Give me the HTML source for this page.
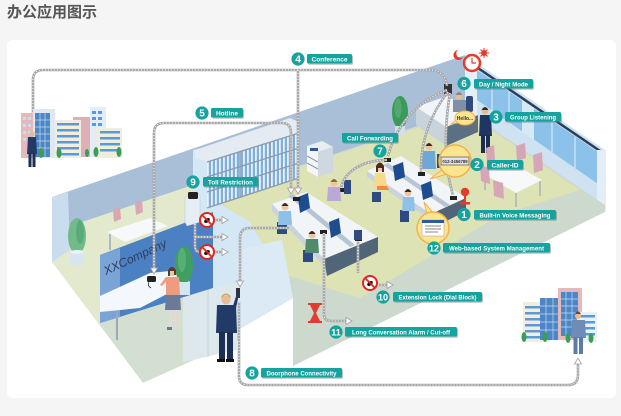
<!DOCTYPE html>
<html><head><meta charset="utf-8">
<style>
html,body{margin:0;padding:0;background:#f5f5f5;}
svg{display:block;}
.lt{font-family:"Liberation Sans",Arial,sans-serif;font-weight:bold;fill:#fff;}
</style></head>
<body>
<svg width="621" height="416" viewBox="0 0 621 416" xmlns="http://www.w3.org/2000/svg">
<defs>
  <pattern id="bind" width="4" height="20" patternUnits="userSpaceOnUse">
    <rect width="4" height="20" fill="#e9f1f9"/>
    <rect x="0.8" width="2.2" height="20" fill="#7fb0dd"/>
  </pattern>
  <path id="c1" d="M33,119 V80 Q33,70 43,70 H430 Q445,70 447,86"/>
  <path id="c2" d="M298,70 V188"/>
  <path id="c3" d="M154,268 V133 Q154,123 164,123 H282 Q291,123 291,133 V188"/>
  <path id="c4" d="M195,206 V246 Q195,252 200,252 M195,237 H222 M215,220 H222 M215,252 H222"/>
  <path id="c5" d="M290,228 H250 Q240,228 240,238 V281"/>
  <path id="c6" d="M239,302 V376 Q239,385 248,385 H568 Q578,385 578,375 V364"/>
  <path id="c7" d="M358,241 V273 M378,285 H387"/>
  <path id="c8" d="M324,233 V314 Q324,321 331,321 H346"/>
  <path id="c9" d="M447,90 C425,98 398,118 388,156"/>
  <path id="c10" d="M448,92 C432,112 420,140 421,172"/>
  <path id="c11" d="M450,93 C444,130 444,165 453,195"/>
  <path id="c12" d="M341,188 C344,172 362,160 387,160"/>
</defs>

<rect width="621" height="416" fill="#f5f5f5"/>
<text x="7" y="17" font-family="'Liberation Sans','Noto Sans CJK SC',sans-serif" font-size="15" font-weight="bold" fill="#555">办公应用图示</text>
<rect x="7" y="40" width="609" height="358" rx="5" fill="#fff"/>

<!-- back wall -->
<polygon points="52,197 465,55 465,110 52,250" fill="#a8bfd7"/>
<!-- window wall -->
<polygon points="465,55 605,150 605,212 465,112" fill="#cfe2f2"/>
<polygon points="477,70 598,152 598,184 477,100" fill="#8cc2ea"/>
<g stroke="#d3e8f7" stroke-width="1.2">
  <line x1="492" y1="80" x2="492" y2="111"/>
  <line x1="509" y1="92" x2="509" y2="122"/>
  <line x1="552" y1="121" x2="552" y2="152"/>
  <line x1="575" y1="137" x2="575" y2="168"/>
</g>
<polygon points="522,100 534,108 534,140 522,132" fill="#d6e9f6"/>
<line x1="472" y1="64" x2="603" y2="153" stroke="#2b3e5a" stroke-width="2.5"/>
<polygon points="465,55 477,63 477,116 465,112" fill="#e4eff8"/>
<polygon points="597,150 606,150 606,212 597,208" fill="#e3eef7"/>

<!-- office floor -->
<polygon points="200,200 465,110 605,205 605,212 293,366 293,298 250,260" fill="#cdd9cc"/>
<polygon points="200,200 465,112 580,190 500,215 360,298 270,270 250,222" fill="#dee3b6"/>

<!-- reception floor / left side -->
<polygon points="52,232 193,185 213,212 100,255 100,325 143,383 52,262" fill="#e2e9cc"/>
<polygon points="52,197 68,192 70,250 52,262" fill="#c9ddef"/>
<polygon points="100,318 213,288 238,283 238,340 143,383 100,325" fill="#d3dfd1"/>

<!-- glass partition -->
<polygon points="193,150 213,146 213,200 250,222 293,298 238,330 238,283 213,290 213,212 193,218" fill="#d4e7f5"/>
<!-- shelf partition -->
<polygon points="195,150 290,118 299,122 299,133 207,162 195,158" fill="#e4ebf2"/>
<polygon points="207,162 299,133 299,178 207,208" fill="url(#bind)"/>
<g stroke="#8d9cab" stroke-width="1.4">
  <line x1="207" y1="162" x2="299" y2="133"/>
  <line x1="207" y1="177" x2="299" y2="148"/>
  <line x1="207" y1="192" x2="299" y2="163"/>
  <line x1="207" y1="208" x2="299" y2="178"/>
  <line x1="240" y1="152" x2="240" y2="198"/>
  <line x1="270" y1="142" x2="270" y2="188"/>
</g>

<!-- lobby -->
<polygon points="183,292 237,283 237,350 183,362" fill="#dce8ec"/>
<line x1="208" y1="288" x2="208" y2="357" stroke="#c3d3da" stroke-width="1"/>
<polygon points="237,250 282,240 293,298 282,303 237,330" fill="#dbeaf5"/>

<!-- reception back: chairs, table -->
<polygon points="113,210 120,207 121,219 114,222" fill="#d9a6b2"/>
<polygon points="135,203 142,200 143,212 136,215" fill="#d9a6b2"/>
<polygon points="107,232 150,218 168,226 125,242" fill="#f6f8fa"/>
<line x1="110" y1="234" x2="110" y2="250" stroke="#9aa8b5" stroke-width="1.5"/>

<!-- reception desk -->
<polygon points="100,255 213,212 213,288 100,323" fill="#4b80c2"/>
<polygon points="100,255 120,248 120,317 100,323" fill="#7aa3d6"/>
<polygon points="100,296 150,273 180,270 190,282 140,308 100,312" fill="#f4f7fb"/>
<line x1="117" y1="312" x2="117" y2="340" stroke="#9aa8b5" stroke-width="2"/>
<text x="0" y="0" transform="translate(106,275) rotate(-25)" font-family="'Liberation Sans',Arial,sans-serif" font-style="italic" font-size="12" fill="#2e3d5c" textLength="68" lengthAdjust="spacingAndGlyphs">XXCompany</text>
<rect x="147" y="276" width="9" height="6" rx="1.5" fill="#222"/>
<path d="M149,282 q-2,4 2,6" stroke="#222" fill="none" stroke-width="0.8"/>

<!-- trees -->
<ellipse cx="77" cy="236" rx="9" ry="18" fill="#72ba8b"/>
<ellipse cx="80" cy="232" rx="4" ry="12" fill="#4aa46c" opacity="0.6"/>
<rect x="70" y="252" width="14" height="13" fill="#d6e6f0"/>
<ellipse cx="77" cy="252" rx="7" ry="2" fill="#e9f2f8"/>
<ellipse cx="184" cy="265" rx="9" ry="19" fill="#3f9f60"/>
<ellipse cx="182" cy="260" rx="4" ry="12" fill="#67b985" opacity="0.6"/>
<rect x="178" y="282" width="12" height="13" fill="#d6e6f0"/>
<ellipse cx="400" cy="112" rx="8" ry="16" fill="#3a9a5a"/>
<ellipse cx="398" cy="108" rx="3.5" ry="10" fill="#62b37f" opacity="0.6"/>
<rect x="395" y="126" width="10" height="9" fill="#cfe0ea"/>

<!-- receptionist -->
<circle cx="172" cy="272" r="4" fill="#f0c4a0"/>
<path d="M168,270 q4,-6 8,0 v5 h-2 v-4 h-4 v5 h-2z" fill="#5b3a2a"/>
<path d="M166,277 h13 l1,18 h-14z" fill="#ee9c80"/>
<path d="M166,277 l-6,8 l2,1 l5,-5z" fill="#ee9c80"/>
<path d="M166,295 h14 l1,15 h-16z" fill="#6b7a97"/>
<rect x="169" y="310" width="3" height="18" fill="#e6d8d2"/>
<rect x="174" y="310" width="3" height="18" fill="#e6d8d2"/>
<rect x="167" y="327" width="5" height="3" fill="#6b7a97"/>

<!-- doorphone device + man -->
<rect x="236" y="288" width="4" height="10" fill="#333"/>
<circle cx="226" cy="300" r="4.5" fill="#e9bb92"/>
<path d="M221.5,299 q4.5,-8 9,0 v-3 q-4.5,-5 -9,0z" fill="#cfa862"/>
<path d="M217,305 h19 l1,28 h-21z" fill="#223a68"/>
<path d="M233,306 l4,-13 l2,1 l-3,14z" fill="#223a68"/>
<rect x="219" y="332" width="6" height="28" fill="#1b2f56"/>
<rect x="227" y="332" width="6" height="28" fill="#1b2f56"/>
<rect x="217" y="359" width="8" height="3" fill="#111"/>
<rect x="226" y="359" width="8" height="3" fill="#111"/>

<!-- copier -->
<polygon points="307,146 322,141 333,147 318,152" fill="#e9eef3"/>
<polygon points="318,152 333,147 333,172 318,177" fill="#cfd8e1"/>
<polygon points="307,146 318,152 318,177 307,171" fill="#f3f6f9"/>
<line x1="307" y1="156" x2="318" y2="162" stroke="#8a9aa8" stroke-width="1"/>
<line x1="307" y1="163" x2="318" y2="169" stroke="#8a9aa8" stroke-width="1"/>
<rect x="310" y="148" width="8" height="3" fill="#2c5aa0"/>

<!-- boss desk -->
<polygon points="416,107 447,96 478,115 446,127" fill="#f2f5f8"/>
<polygon points="446,127 478,115 478,132 446,146" fill="#5b7083"/>
<polygon points="416,107 446,127 446,146 416,125" fill="#c9d3dc"/>
<rect x="466" y="96" width="7" height="16" rx="2" fill="#2e4a7e"/>
<circle cx="459" cy="96" r="3.5" fill="#e9bb92"/>
<path d="M455.5,95 q3.5,-6 7,0z" fill="#888"/>
<path d="M453,100 h13 v12 h-13z" fill="#7e8fa6"/>
<rect x="444" y="84" width="8" height="10" fill="#333"/>

<!-- standing man near window -->
<circle cx="485" cy="111" r="3.5" fill="#e9bb92"/>
<path d="M481.5,110 q3.5,-6 7,0z" fill="#3a2a20"/>
<path d="M480,115 h11 l1,21 h-13z" fill="#1f3663"/>
<rect x="481" y="135" width="4" height="18" fill="#1a2d52"/>
<rect x="486" y="135" width="4" height="18" fill="#1a2d52"/>

<!-- meeting table -->
<polygon points="486,148 494,145 495,160 487,163" fill="#d7a6b6"/>
<polygon points="516,146 525,143 526,158 517,161" fill="#d7a6b6"/>
<polygon points="533,155 542,152 543,170 534,173" fill="#d7a6b6"/>
<polygon points="482,173 508,161 542,180 516,193" fill="#f6f8fa"/>
<line x1="485" y1="175" x2="485" y2="190" stroke="#9aa8b5" stroke-width="1.2"/>
<line x1="516" y1="193" x2="516" y2="207" stroke="#9aa8b5" stroke-width="1.2"/>
<line x1="540" y1="181" x2="540" y2="196" stroke="#9aa8b5" stroke-width="1.2"/>
<polygon points="480,165 489,168 490,184 481,181" fill="#d7a6b6"/>
<polygon points="493,180 503,183 504,199 494,196" fill="#d7a6b6"/>

<!-- desk 2 (back) -->
<polygon points="367,171 401,156 466,198 431,214" fill="#f2f5f8"/>
<polygon points="383,165 388,163 450,205 445,207" fill="#b5c5d5"/>
<polygon points="431,214 466,198 466,211 433,228" fill="#506578"/>
<polygon points="367,171 431,214 431,220 367,177" fill="#c9d3dc"/>
<polygon points="393,166 403,162 405,177 395,181" fill="#1e4d8f"/>
<polygon points="421,185 431,181 433,196 423,200" fill="#1e4d8f"/>
<rect x="384" y="158" width="7" height="4" fill="#222"/>
<rect x="418" y="172" width="7" height="4" fill="#222"/>
<rect x="450" y="196" width="7" height="4" fill="#222"/>
<path d="M372,192 h9 v10 h-9z" fill="#2e4a7e"/>
<circle cx="380" cy="168" r="3.5" fill="#f0c4a0"/>
<path d="M376,166 q4,-7 8,0 v6 h-2 v-4 h-4 v4 h-2z" fill="#4a2c1c"/>
<path d="M375,173 h10 l2,14 h-13z" fill="#f7d98a"/>
<path d="M377,186 h10 l2,4 h-12z" fill="#f08a3c"/>
<path d="M400,210 h9 v12 h-9z" fill="#2e4a7e"/>
<circle cx="408" cy="193" r="3.5" fill="#f0c4a0"/>
<path d="M404.5,192 q3.5,-6 7,0z" fill="#3a2a20"/>
<path d="M403,197 h11 l1,14 h-13z" fill="#8fc1e8"/>
<circle cx="429" cy="147" r="3.5" fill="#f0c4a0"/>
<path d="M425.5,146 q3.5,-6 7,0z" fill="#3a2a20"/>
<path d="M423,151 h12 l1,18 h-14z" fill="#6fa8d8"/>
<path d="M437,154 h6 v14 h-6z" fill="#2e4a7e"/>

<!-- desk 1 (front) -->
<polygon points="272,204 306,192 378,237 324,259" fill="#f2f5f8"/>
<polygon points="288,196 293,194 355,245 350,247" fill="#b5c5d5"/>
<polygon points="324,259 378,237 378,252 327,276" fill="#506578"/>
<polygon points="272,204 324,259 324,266 272,211" fill="#c9d3dc"/>
<polygon points="298,197 308,193 310,208 300,213" fill="#1e4d8f"/>
<polygon points="329,222 339,218 341,233 331,238" fill="#1e4d8f"/>
<rect x="293" y="197" width="7" height="4" fill="#222"/>
<rect x="320" y="230" width="7" height="4" fill="#222"/>
<rect x="338" y="188" width="7" height="4" fill="#222"/>
<rect x="355" y="237" width="7" height="4" fill="#222"/>
<path d="M277,222 h10 v12 h-10z" fill="#2e4a7e"/>
<circle cx="285" cy="207" r="3.5" fill="#f0c4a0"/>
<path d="M281.5,206 q3.5,-6 7,0z" fill="#3a2a20"/>
<path d="M279,211 h12 l1,14 h-14z" fill="#8fc1e8"/>
<path d="M303,250 h10 v12 h-10z" fill="#2e4a7e"/>
<circle cx="312" cy="235" r="3.5" fill="#f0c4a0"/>
<path d="M308.5,234 q3.5,-6 7,0z" fill="#3a2a20"/>
<path d="M306,239 h12 l1,14 h-14z" fill="#4f8a6d"/>
<path d="M344,180 h7 v14 h-7z" fill="#2e4a7e"/>
<circle cx="334" cy="183" r="3.5" fill="#f0c4a0"/>
<path d="M330.5,182 q3.5,-6 7,0z" fill="#8a6a40"/>
<path d="M328,187 h12 l1,14 h-14z" fill="#bba7d8"/>
<path d="M354,230 h8 v10 h-8z" fill="#2e4a7e"/>

<!-- connectors -->
<g fill="none">
  <g stroke="#a9a9a9" stroke-width="2.6">
    <use href="#c1"/><use href="#c2"/><use href="#c3"/><use href="#c4"/><use href="#c5"/><use href="#c6"/>
    <use href="#c7"/><use href="#c8"/><use href="#c9"/><use href="#c10"/><use href="#c11"/><use href="#c12"/>
  </g>
  <g stroke="#fff" stroke-width="1" stroke-dasharray="1 2">
    <use href="#c1"/><use href="#c2"/><use href="#c3"/><use href="#c4"/><use href="#c5"/><use href="#c6"/>
    <use href="#c7"/><use href="#c8"/><use href="#c9"/><use href="#c10"/><use href="#c11"/><use href="#c12"/>
  </g>
</g>
<g fill="#fff" stroke="#a0a0a0" stroke-width="0.8">
  <polygon points="29.5,119 36.5,119 33,125"/>
  <polygon points="294.5,188 301.5,188 298,194"/>
  <polygon points="287.5,188 294.5,188 291,194"/>
  <polygon points="150.5,268 157.5,268 154,274"/>
  <polygon points="222,233.5 222,240.5 228,237"/>
  <polygon points="222,216.5 222,223.5 228,220"/>
  <polygon points="222,248.5 222,255.5 228,252"/>
  <polygon points="236.5,281 243.5,281 240,287"/>
  <polygon points="574.5,364 581.5,364 578,358"/>
  <polygon points="387,281.5 387,288.5 393,285"/>
  <polygon points="346,317.5 346,324.5 352,321"/>
</g>

<!-- toll phone stand -->
<polygon points="185,197 198,193 200,196 200,222 187,226 185,222" fill="#e6eef5" stroke="#b8c6d2" stroke-width="0.5"/>
<rect x="188" y="192" width="10" height="7" rx="1.5" fill="#222"/>

<!-- no-phone icons -->
<g>
  <circle cx="207" cy="220" r="7" fill="#fff" stroke="#e0261f" stroke-width="2"/>
  <ellipse cx="207" cy="220.5" rx="3.2" ry="2" fill="#111" transform="rotate(-35 207 220.5)"/>
  <line x1="202" y1="215" x2="212" y2="225" stroke="#e0261f" stroke-width="1.8"/>
  <circle cx="207" cy="252" r="7" fill="#fff" stroke="#e0261f" stroke-width="2"/>
  <ellipse cx="207" cy="252.5" rx="3.2" ry="2" fill="#111" transform="rotate(-35 207 252.5)"/>
  <line x1="202" y1="247" x2="212" y2="257" stroke="#e0261f" stroke-width="1.8"/>
  <circle cx="370" cy="283" r="7" fill="#fff" stroke="#e0261f" stroke-width="2"/>
  <ellipse cx="370" cy="283.5" rx="3.2" ry="2" fill="#111" transform="rotate(-35 370 283.5)"/>
  <line x1="365" y1="278" x2="375" y2="288" stroke="#e0261f" stroke-width="1.8"/>
</g>

<!-- hourglass -->
<rect x="308" y="303" width="14" height="2" fill="#e33b2e"/>
<rect x="308" y="321" width="14" height="2" fill="#e33b2e"/>
<polygon points="310,305 320,305 316,313 320,321 310,321 314,313" fill="#e33b2e"/>

<!-- clock / sun / moon -->
<circle cx="472" cy="63" r="8" fill="#fff" stroke="#e53a2e" stroke-width="2.5"/>
<path d="M472,58 V63 H476" stroke="#e53a2e" stroke-width="1.2" fill="none"/>
<circle cx="484" cy="53" r="3" fill="#e53a2e"/>
<g stroke="#e53a2e" stroke-width="1">
  <line x1="484" y1="48" x2="484" y2="58"/><line x1="479" y1="53" x2="489" y2="53"/>
  <line x1="480.5" y1="49.5" x2="487.5" y2="56.5"/><line x1="487.5" y1="49.5" x2="480.5" y2="56.5"/>
</g>
<path d="M458,50 a5,5 0 1,0 5,7 a4,4 0 1,1 -5,-7z" fill="#e53a2e"/>

<!-- microphone -->
<circle cx="465" cy="192" r="4.2" fill="#e33b2e"/>
<rect x="464" y="196" width="2" height="6" fill="#e33b2e"/>
<rect x="460" y="202" width="10" height="2.5" fill="#e33b2e"/>

<!-- bubbles -->
<polygon points="442,170 447,174 430,179" fill="#fde58f" stroke="#f4b04d" stroke-width="1"/>
<circle cx="455" cy="161" r="16" fill="#fde58f" stroke="#f4b04d" stroke-width="1.5"/>
<rect x="441" y="157" width="28" height="8" fill="#e2e2e2" stroke="#555" stroke-width="0.7"/>
<text x="455" y="163" text-anchor="middle" font-family="'Liberation Sans',Arial,sans-serif" font-size="4.3" font-weight="bold" fill="#333">012-3456789</text>
<polygon points="427,214 434,214 424,202" fill="#fde58f" stroke="#f4b04d" stroke-width="1"/>
<circle cx="433" cy="228" r="16" fill="#fde58f" stroke="#f4b04d" stroke-width="1.5"/>
<rect x="422" y="220" width="22" height="16" fill="#fff" stroke="#999" stroke-width="0.5"/>
<rect x="422" y="220" width="22" height="3" fill="#2c5aa0"/>
<g stroke="#888" stroke-width="1"><line x1="425" y1="226" x2="441" y2="226"/><line x1="425" y1="229" x2="441" y2="229"/><line x1="425" y1="232" x2="438" y2="232"/></g>
<polygon points="456,120 459,123 451,124" fill="#fde58f" stroke="#f4b04d" stroke-width="0.8"/>
<ellipse cx="465" cy="118" rx="10" ry="7" fill="#fde58f" stroke="#f4b04d" stroke-width="1"/>
<text x="465" y="120" text-anchor="middle" font-family="'Liberation Sans',Arial,sans-serif" font-size="5" font-weight="bold" fill="#333">Hello...</text>

<!-- left city -->
<g>
  <rect x="21" y="113" width="12" height="45" fill="#e3b9bb"/>
  <g fill="#c9dff0"><rect x="23" y="117" width="3" height="3"/><rect x="28" y="117" width="3" height="3"/><rect x="23" y="124" width="3" height="3"/><rect x="28" y="124" width="3" height="3"/><rect x="23" y="131" width="3" height="3"/><rect x="28" y="131" width="3" height="3"/><rect x="23" y="138" width="3" height="3"/><rect x="28" y="138" width="3" height="3"/></g>
  <rect x="33" y="109" width="22" height="49" fill="#dfe7ef"/>
  <rect x="35" y="113" width="15" height="44" fill="#4c86c6"/>
  <g stroke="#c9dcef" stroke-width="0.7"><line x1="40" y1="113" x2="40" y2="157"/><line x1="45" y1="113" x2="45" y2="157"/><line x1="35" y1="120" x2="50" y2="120"/><line x1="35" y1="127" x2="50" y2="127"/><line x1="35" y1="134" x2="50" y2="134"/><line x1="35" y1="141" x2="50" y2="141"/><line x1="35" y1="148" x2="50" y2="148"/></g>
  <rect x="73" y="117" width="17" height="40" fill="#dcb0b5"/>
  <rect x="55" y="120" width="26" height="38" fill="#f1eedf"/>
  <g fill="#5a9ad6"><rect x="57" y="123" width="22" height="2.5"/><rect x="57" y="129" width="22" height="2.5"/><rect x="57" y="135" width="22" height="2.5"/><rect x="57" y="141" width="22" height="2.5"/><rect x="57" y="147" width="22" height="2.5"/><rect x="57" y="153" width="22" height="2.5"/></g>
  <rect x="90" y="107" width="16" height="50" fill="#e4edf5"/>
  <g fill="#5a9ad6"><rect x="92" y="111" width="4" height="3"/><rect x="98" y="111" width="4" height="3"/><rect x="92" y="117" width="4" height="3"/><rect x="98" y="117" width="4" height="3"/><rect x="92" y="123" width="4" height="3"/><rect x="98" y="123" width="4" height="3"/></g>
  <rect x="98" y="128" width="24" height="30" fill="#f1eddc"/>
  <g fill="#5a9ad6"><rect x="100" y="131" width="20" height="2.5"/><rect x="100" y="137" width="20" height="2.5"/><rect x="100" y="143" width="20" height="2.5"/><rect x="100" y="149" width="20" height="2.5"/></g>
  <g fill="#3c9d58"><ellipse cx="41" cy="153" rx="2.5" ry="5"/><ellipse cx="59" cy="153" rx="2.5" ry="5"/><ellipse cx="87" cy="153" rx="2" ry="4"/><ellipse cx="96" cy="152" rx="2.5" ry="5"/><ellipse cx="119" cy="152" rx="2.5" ry="5"/></g>
  <circle cx="32" cy="134" r="2.8" fill="#e9bb92"/>
  <path d="M28,137 h8 l1,17 h-10z" fill="#233a66"/>
  <rect x="28.5" y="153" width="3" height="14" fill="#1b2f56"/>
  <rect x="32.5" y="153" width="3" height="14" fill="#1b2f56"/>
</g>

<!-- right city -->
<g>
  <rect x="523" y="302" width="27" height="40" fill="#f1eedf"/>
  <g fill="#5a9ad6"><rect x="525" y="306" width="22" height="2.5"/><rect x="525" y="312" width="22" height="2.5"/><rect x="525" y="318" width="22" height="2.5"/><rect x="525" y="324" width="22" height="2.5"/><rect x="525" y="330" width="22" height="2.5"/><rect x="525" y="336" width="22" height="2.5"/></g>
  <rect x="540" y="298" width="22" height="42" fill="#4c86c6"/>
  <g stroke="#c9dcef" stroke-width="0.7"><line x1="546" y1="298" x2="546" y2="340"/><line x1="553" y1="298" x2="553" y2="340"/><line x1="540" y1="306" x2="562" y2="306"/><line x1="540" y1="314" x2="562" y2="314"/><line x1="540" y1="322" x2="562" y2="322"/><line x1="540" y1="330" x2="562" y2="330"/></g>
  <rect x="558" y="288" width="24" height="52" fill="#e3b9bb"/>
  <rect x="561" y="292" width="17" height="44" fill="#4c86c6"/>
  <g stroke="#c9dcef" stroke-width="0.7"><line x1="566" y1="292" x2="566" y2="336"/><line x1="572" y1="292" x2="572" y2="336"/><line x1="561" y1="299" x2="578" y2="299"/><line x1="561" y1="306" x2="578" y2="306"/><line x1="561" y1="313" x2="578" y2="313"/><line x1="561" y1="320" x2="578" y2="320"/><line x1="561" y1="327" x2="578" y2="327"/></g>
  <rect x="577" y="312" width="20" height="30" fill="#e9f0f6"/>
  <g fill="#5a9ad6"><rect x="579" y="315" width="16" height="2.5"/><rect x="579" y="321" width="16" height="2.5"/><rect x="579" y="327" width="16" height="2.5"/><rect x="579" y="333" width="16" height="2.5"/></g>
  <g fill="#3c9d58"><ellipse cx="524" cy="337" rx="2.5" ry="5"/><ellipse cx="545" cy="337" rx="2.5" ry="5"/><ellipse cx="568" cy="338" rx="2.5" ry="5"/><ellipse cx="591" cy="338" rx="2.5" ry="5"/></g>
  <circle cx="578" cy="316" r="3" fill="#e9bb92"/>
  <path d="M575,314 q3,-5 6,0z" fill="#6a4a30"/>
  <path d="M572,320 h13 l1,18 h-15z" fill="#6d8db6"/>
  <rect x="573.5" y="337" width="4" height="17" fill="#5d7ca5"/>
  <rect x="579" y="337" width="4" height="17" fill="#5d7ca5"/>
</g>

<!-- labels -->
<g>
  <g fill="#5f7a78" opacity="0.45">
    <rect x="308" y="55.2" width="45" height="9.5" rx="1.5"/>
    <rect x="212" y="109.2" width="32" height="9.5" rx="1.5"/>
    <rect x="475" y="80.2" width="59" height="9.5" rx="1.5"/>
    <rect x="506" y="113.2" width="56" height="9.5" rx="1.5"/>
    <rect x="343" y="134.2" width="56" height="9.5" rx="1.5"/>
    <rect x="488" y="161.2" width="36" height="9.5" rx="1.5"/>
    <rect x="475" y="211.2" width="82" height="9.5" rx="1.5"/>
    <rect x="444" y="244.2" width="107" height="9.5" rx="1.5"/>
    <rect x="394" y="293.2" width="89" height="9.5" rx="1.5"/>
    <rect x="346" y="328.2" width="112" height="9.5" rx="1.5"/>
    <rect x="262" y="369.2" width="81" height="9.5" rx="1.5"/>
    <rect x="204" y="178.2" width="55" height="9.5" rx="1.5"/>
  </g>
  <g fill="#15a39f">
    <rect x="307" y="54" width="45" height="9.5" rx="1.5"/><circle cx="298" cy="59" r="6.6"/>
    <rect x="211" y="108" width="32" height="9.5" rx="1.5"/><circle cx="202" cy="113" r="6.6"/>
    <rect x="474" y="79" width="59" height="9.5" rx="1.5"/><circle cx="464" cy="83.5" r="6.6"/>
    <rect x="505" y="112" width="56" height="9.5" rx="1.5"/><circle cx="496" cy="117" r="6.6"/>
    <rect x="342" y="133" width="56" height="9.5" rx="1.5"/><circle cx="380" cy="151" r="6.6"/>
    <rect x="487" y="160" width="36" height="9.5" rx="1.5"/><circle cx="477" cy="164.5" r="6.6"/>
    <rect x="474" y="210" width="82" height="9.5" rx="1.5"/><circle cx="464" cy="214.5" r="6.6"/>
    <rect x="443" y="243" width="107" height="9.5" rx="1.5"/><circle cx="434" cy="248" r="6.6"/>
    <rect x="393" y="292" width="89" height="9.5" rx="1.5"/><circle cx="383" cy="297" r="6.6"/>
    <rect x="345" y="327" width="112" height="9.5" rx="1.5"/><circle cx="336" cy="332" r="6.6"/>
    <rect x="261" y="368" width="81" height="9.5" rx="1.5"/><circle cx="252" cy="373" r="6.6"/>
    <rect x="203" y="177" width="55" height="9.5" rx="1.5"/><circle cx="193" cy="182" r="6.6"/>
  </g>
  <g class="lt" font-size="6.8" text-anchor="middle">
    <text x="329.5" y="61.3" textLength="36" lengthAdjust="spacingAndGlyphs">Conference</text>
    <text x="227" y="115.3" textLength="22" lengthAdjust="spacingAndGlyphs">Hotline</text>
    <text x="503.5" y="86.3" textLength="49" lengthAdjust="spacingAndGlyphs">Day / Night Mode</text>
    <text x="533" y="119.3" textLength="46" lengthAdjust="spacingAndGlyphs">Group Listening</text>
    <text x="370" y="140.3" textLength="46" lengthAdjust="spacingAndGlyphs">Call Forwarding</text>
    <text x="505" y="167.3" textLength="27" lengthAdjust="spacingAndGlyphs">Caller-ID</text>
    <text x="515" y="217.3" textLength="71" lengthAdjust="spacingAndGlyphs">Built-in Voice Messaging</text>
    <text x="496.5" y="250.3" textLength="95" lengthAdjust="spacingAndGlyphs">Web-based System Management</text>
    <text x="437.5" y="299.3" textLength="78" lengthAdjust="spacingAndGlyphs">Extension Lock (Dial Block)</text>
    <text x="401" y="334.3" textLength="98" lengthAdjust="spacingAndGlyphs">Long Conversation Alarm / Cut-off</text>
    <text x="301.5" y="375.3" textLength="70" lengthAdjust="spacingAndGlyphs">Doorphone Connectivity</text>
    <text x="230.5" y="184.3" textLength="45" lengthAdjust="spacingAndGlyphs">Toll Restriction</text>
  </g>
  <g class="lt" font-size="10" text-anchor="middle">
    <text x="298" y="62.6">4</text>
    <text x="202" y="116.6">5</text>
    <text x="464" y="87.1">6</text>
    <text x="496" y="120.6">3</text>
    <text x="380" y="154.6">7</text>
    <text x="477" y="168.1">2</text>
    <text x="464" y="218.1">1</text>
    <text x="434" y="251.6" font-size="9">12</text>
    <text x="383" y="300.6" font-size="9">10</text>
    <text x="336" y="335.6" font-size="9">11</text>
    <text x="252" y="376.6">8</text>
    <text x="193" y="185.6">9</text>
  </g>
</g>
</svg>
</body></html>
